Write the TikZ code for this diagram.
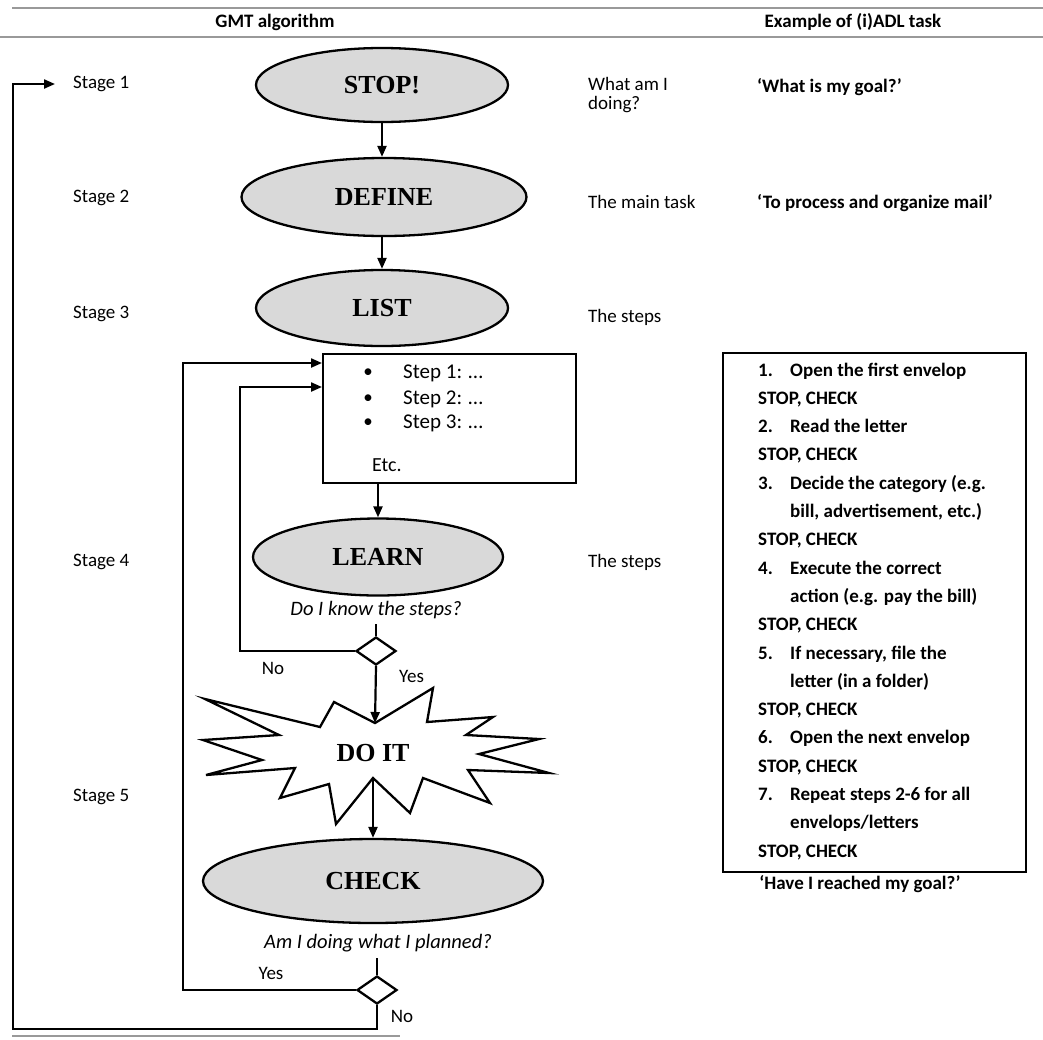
\documentclass[tikz,border=0pt]{standalone}
\usepackage{fontspec}
\setmainfont{Carlito}
\newfontfamily\ovalfont{Liberation Serif}
\usetikzlibrary{shapes.geometric,arrows.meta}
\begin{document}
\begin{tikzpicture}[x=1pt,y=-1pt,
  lbl/.style={font=\fontsize{19}{21}\selectfont, inner sep=0pt},
  blbl/.style={font=\bfseries\fontsize{19}{21}\selectfont, inner sep=0pt},
  qlbl/.style={font=\itshape\fontsize{20.5}{22}\selectfont, inner sep=0pt},
  oval/.style={ellipse, draw, line width=2.3pt, fill=black!15, inner sep=0pt,
    font=\ovalfont\bfseries\fontsize{26}{28}\selectfont},
  choice/.style={diamond, draw, line width=2.3pt, fill=white, inner sep=0pt,
    minimum width=40pt, minimum height=28pt},
  arr/.style={line width=2.2pt, -{Triangle[length=11pt,width=9pt]}},
  plain/.style={line width=2.2pt},
  rule/.style={line width=1.4pt, black!40},
]
\useasboundingbox (0,0) rectangle (1043,1039);

% header rules
\draw[rule] (12,8) -- (1043,8);
\draw[rule] (0,37) -- (1043,37);
\draw[rule] (12,1036) -- (400,1036);
\node[blbl] (h1) at (275,22) {GMT algorithm};
\node[blbl] (h2) at (853,22) {Example of (i)ADL task};

% stage labels
\node[lbl, anchor=west] (s1) at (73,84) {Stage 1};
\node[lbl, anchor=west] (s2) at (73,198) {Stage 2};
\node[lbl, anchor=west] (s3) at (73,314) {Stage 3};
\node[lbl, anchor=west] (s4) at (73,562) {Stage 4};
\node[lbl, anchor=west] (s5) at (73,797) {Stage 5};

% ovals
\node[oval, minimum width=252pt, minimum height=74pt] (stop) at (382,85) {STOP!};
\node[oval, minimum width=285pt, minimum height=78pt] (define) at (384,197) {DEFINE};
\node[oval, minimum width=252pt, minimum height=76pt] (list) at (382,308) {LIST};

% steps box
\node[draw, line width=2pt, minimum width=253pt, minimum height=129pt, inner sep=0pt,
  anchor=north west] (box) at (322,353) {};
\coordinate (in1) at (322,363);
\coordinate (in2) at (322,387);
\node[lbl] (b1) at (368,373) {•};
\node[lbl] (b2) at (368,399) {•};
\node[lbl] (b3) at (368,423) {•};
\node[lbl, anchor=west, font=\fontsize{21}{23}\selectfont] (t1) at (403,373) {Step 1: …};
\node[lbl, anchor=west, font=\fontsize{21}{23}\selectfont] (t2) at (403,399) {Step 2: …};
\node[lbl, anchor=west, font=\fontsize{21}{23}\selectfont] (t3) at (403,423) {Step 3: …};
\node[lbl, anchor=west, font=\fontsize{20}{22}\selectfont] (etc) at (372,465) {Etc.};

\node[oval, minimum width=250pt, minimum height=77pt] (learn) at (378,557) {LEARN};
\node[qlbl] (q1) at (376,610) {Do I know the steps?};
\coordinate (q1s) at (376,624);
\node[choice] (d1) at (376,651) {};
\node[lbl] (no1) at (273,668) {No};
\node[lbl, anchor=west] (yes1) at (399,676) {Yes};

% DO IT starburst
\draw[line width=2.3pt, fill=white, line join=miter]
  (205,699) -- (320,727) -- (334,702) -- (375,723) -- (433,688) -- (427,722) --
  (493,717) -- (466,735) -- (539,739) -- (479,754) -- (549,773) -- (468,770) --
  (490,803) -- (423,778) -- (410,813) -- (373,778) -- (336,824) -- (329,784) --
  (280,798) -- (295,768) -- (206,775) -- (262,760) -- (203,740) -- (279,735) -- cycle;
\node[font=\ovalfont\bfseries\fontsize{26}{28}\selectfont, inner sep=0pt] (doit) at (373,753) {DO IT};
\coordinate (doitTop) at (375,723);
\coordinate (doitBot) at (373,778);

\node[oval, minimum width=340pt, minimum height=84pt] (check) at (373,881) {CHECK};
\node[qlbl] (q2) at (378,943) {Am I doing what I planned?};
\coordinate (q2s) at (377,958);
\node[choice] (d2) at (377,990) {};
\node[lbl] (yes2) at (271,973) {Yes};
\node[lbl] (no2) at (402,1016) {No};

% middle column
\node[lbl, anchor=north west, align=left, font=\fontsize{19}{19}\selectfont] (m1) at (588,77) {What am I\\doing?};
\node[lbl, anchor=west] (m2) at (588,202) {The main task};
\node[lbl, anchor=west] (m3) at (588,317) {The steps};
\node[lbl, anchor=west] (m4) at (588,562) {The steps};

% right column
\node[blbl, anchor=west] (r1) at (757,87) {‘What is my goal?’};
\node[blbl, anchor=west] (r2) at (757,203) {‘To process and organize mail’};

\node[draw, line width=2pt, minimum width=303pt, minimum height=519pt, inner sep=0pt,
  anchor=north west] (ex) at (722,352) {};
\foreach \k/\num/\txt in {
  0/1./{Open the first envelop},
  2/2./{Read the letter},
  4/3./{Decide the category (e.g.},
  5//{bill, advertisement, etc.)},
  7/4./{Execute the correct},
  8//{action (e.g. pay the bill)},
  10/5./{If necessary, file the},
  11//{letter (in a folder)},
  13/6./{Open the next envelop},
  15/7./{Repeat steps 2-6 for all},
  16//{envelops\slash letters}}{
  \node[blbl, anchor=base west] (en\k) at (758,376+28.3*\k) {\num};
  \node[blbl, anchor=base west] (et\k) at (790,376+28.3*\k) {\txt};
}
\foreach \k in {1,3,6,9,12,14,17}{
  \node[blbl, anchor=base west] (sc\k) at (758,376+28.3*\k) {STOP, CHECK};
}
\node[blbl] (goal) at (860,884) {‘Have I reached my goal?’};

% connectors
\draw[arr] (stop.south) -- (stop.south |- define.north);
\draw[arr] (define.south -| list.north) -- (list.north);
\draw[arr] (learn.north |- box.south) -- (learn.north);
\draw[plain] (q1s) -- (d1.north);
\draw[arr] (d1.south) -- (doitTop);
\draw[arr] (d1.west) -| (240,387) -- (in2);
\draw[arr] (doitBot) -- (check.north);
\draw[plain] (q2s) -- (d2.north);
\draw[arr] (d2.west) -| (183,363) -- (in1);
\draw[arr] (d2.south) |- (13,1029) |- ([xshift=-18pt]s1.west);
\end{tikzpicture}
\end{document}
